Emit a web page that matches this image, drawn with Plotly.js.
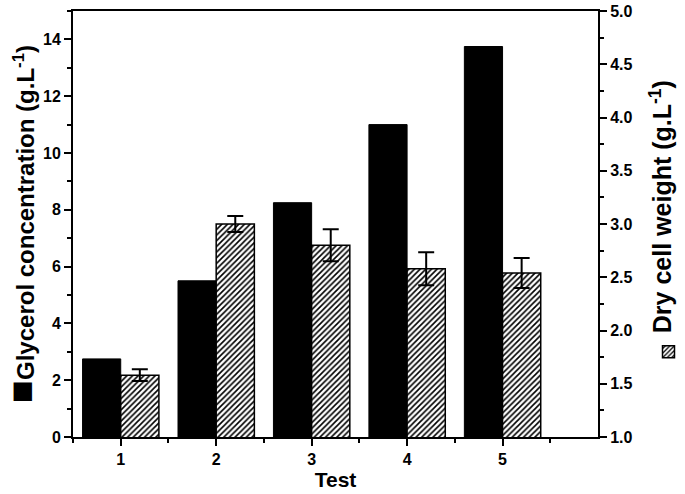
<!DOCTYPE html>
<html>
<head>
<meta charset="utf-8">
<script src="https://cdn.plot.ly/plotly-3.0.1.min.js"></script>
<style>html,body{margin:0;padding:0;background:#fff;}#chart{width:685px;height:494px;}</style>
</head>
<body>
<div id="chart"></div>
<script>
var tests = [1, 2, 3, 4, 5];
var glycerol = [2.75, 5.5, 8.25, 11.0, 13.75];
var dryCellWeight = [1.58, 3.0, 2.8, 2.58, 2.54];
var dryCellError = [0.055, 0.075, 0.15, 0.155, 0.14];
var xTickLabels = ['1', '2', '3', '4', '5'];
var yTickVals = [0, 2, 4, 6, 8, 10, 12, 14];
var yTickLabels = ['0', '2', '4', '6', '8', '10', '12', '14'];
var y2TickVals = [1, 1.5, 2, 2.5, 3, 3.5, 4, 4.5, 5];
var y2TickLabels = ['1.0', '1.5', '2.0', '2.5', '3.0', '3.5', '4.0', '4.5', '5.0'];

var FONT = 'Liberation Sans, Arial, sans-serif';
function bold(a) { return a.map(function (s) { return '<b>' + s + '</b>'; }); }
var TICKFONT = {size: 16, family: FONT, weight: 'bold', color: '#000'};

var glyTrace = {
  type: 'bar', x: tests, y: glycerol, name: 'Glycerol concentration',
  width: 0.4, offset: -0.4,
  marker: {color: '#000', line: {color: '#000', width: 1}},
  showlegend: false, yaxis: 'y'
};
var dcwTrace = {
  type: 'bar', x: tests, y: dryCellWeight, name: ' ',
  width: 0.4, offset: 0,
  marker: {color: '#fff', line: {color: '#000', width: 1.5},
           pattern: {shape: '/', fgcolor: '#000', bgcolor: '#fff', size: 4, solidity: 0.4}},
  error_y: {type: 'data', array: dryCellError, visible: true, color: '#000', thickness: 2, width: 8},
  showlegend: true, yaxis: 'y2'
};

var layout = {
  width: 685, height: 494,
  margin: {l: 73, r: 87, t: 11, b: 57, autoexpand: false},
  paper_bgcolor: '#fff', plot_bgcolor: '#fff',
  barmode: 'overlay',
  font: {family: FONT, color: '#000', size: 14},
  showlegend: true,
  legend: {x: 1.14, y: 0.20, xanchor: 'center', yanchor: 'middle', bgcolor: 'rgba(0,0,0,0)',
           font: {size: 2}, itemwidth: 30},
  xaxis: {
    range: [0.5, 6], tickmode: 'array', tickvals: tests, ticktext: bold(xTickLabels),
    ticks: 'outside', ticklen: 7, tickwidth: 2, tickcolor: '#000',
    minor: {tick0: 0.5, dtick: 1, ticks: 'outside', ticklen: 4, tickwidth: 2, tickcolor: '#000'},
    showline: true, linewidth: 2, linecolor: '#000', mirror: true,
    showgrid: false, zeroline: false,
    tickfont: TICKFONT,
    title: {text: '<b>Test</b>', font: {size: 21, family: FONT}, standoff: 5},
    automargin: false
  },
  yaxis: {
    range: [0, 15], tickmode: 'array', tickvals: yTickVals, ticktext: bold(yTickLabels),
    ticks: 'outside', ticklen: 7, tickwidth: 2, tickcolor: '#000',
    minor: {dtick: 1, ticks: 'outside', ticklen: 4, tickwidth: 2, tickcolor: '#000'},
    showline: true, linewidth: 2, linecolor: '#000',
    showgrid: false, zeroline: false,
    tickfont: TICKFONT,
    title: {text: '<b><span style="font-size:38px">■</span>Glycerol concentration (g.L<sup>-1</sup>)</b>',
            font: {size: 24, family: FONT}, standoff: 7},
    automargin: false
  },
  yaxis2: {
    range: [1, 5], tickmode: 'array', tickvals: y2TickVals, ticktext: bold(y2TickLabels),
    overlaying: 'y', side: 'right',
    ticks: 'outside', ticklen: 7, tickwidth: 2, tickcolor: '#000',
    minor: {dtick: 0.25, ticks: 'outside', ticklen: 4, tickwidth: 2, tickcolor: '#000'},
    showline: true, linewidth: 2, linecolor: '#000',
    showgrid: false, zeroline: false,
    tickfont: TICKFONT,
    title: {text: '<b>\u00a0\u00a0\u00a0\u00a0\u00a0Dry cell weight (g.L<sup>-1</sup>)</b>',
            font: {size: 25, family: FONT}, standoff: 22},
    automargin: false
  }
};

Plotly.newPlot('chart', [glyTrace, dcwTrace], layout, {displayModeBar: false, staticPlot: true});
</script>
</body>
</html>
